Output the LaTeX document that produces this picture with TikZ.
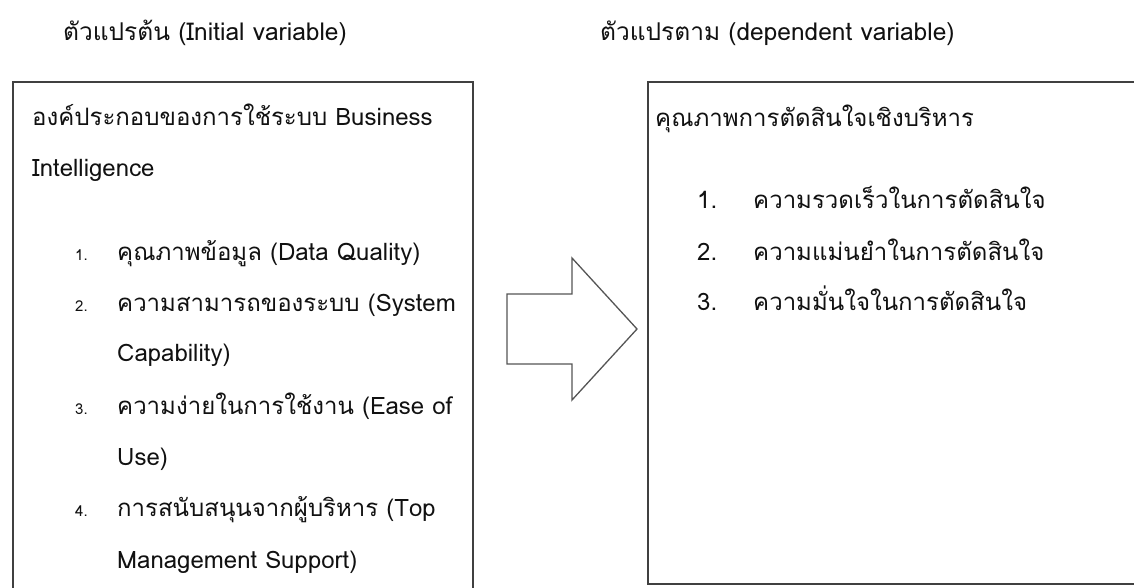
\documentclass[tikz,border=0pt]{standalone}
\usepackage{fontspec}
\setmainfont{Loma}[Script=Thai]
\definecolor{linegray}{HTML}{404040}
\definecolor{arrowgray}{HTML}{555555}
\definecolor{textblack}{HTML}{111111}

\begin{document}
\begin{tikzpicture}
    [
        x=1pt, y=-1pt,
        framebox/.style={rectangle, draw=linegray, line width=2pt, anchor=north west, inner sep=0pt},
        headtext/.style={anchor=base west, font=\fontsize{24.5}{28}\selectfont, text=textblack, inner sep=0pt},
        bodytext/.style={anchor=base west, font=\fontsize{24}{28}\selectfont, text=textblack, inner sep=0pt},
        smallnum/.style={anchor=base west, font=\fontsize{15}{18}\selectfont, text=textblack, inner sep=0pt},
        bignum/.style={anchor=base west, font=\fontsize{24}{28}\selectfont, text=textblack, inner sep=0pt},
        blockarrow/.style={draw=arrowgray, line width=1.3pt, fill=white, line join=miter},
    ]

    \clip (0,0) rectangle (1134,587);
    \fill[white] (0,0) rectangle (1134,587);

    \node[framebox, minimum width=460pt, minimum height=560pt] (leftbox) at (12,81) {};
    \node[framebox, minimum width=520pt, minimum height=502pt] (rightbox) at (647,81) {};

    \node[headtext] (textinitial) at (63,40) {ตัวแปรต้น (Initial variable)};
    \node[headtext] (textdependent) at (600,40) {ตัวแปรตาม (dependent variable)};

    \node[bodytext] (lefttitle1) at (32,125) {องค์ประกอบของการใช้ระบบ Business};
    \node[bodytext] (lefttitle2) at (32,176) {Intelligence};

    \node[smallnum] (num1) at (75,260) {1.};
    \node[bodytext] (item1) at (117,260) {คุณภาพข้อมูล (Data Quality)};
    \node[smallnum] (num2) at (75,311) {2.};
    \node[bodytext] (item2) at (117,311) {ความสามารถของระบบ (System};
    \node[bodytext] (item2b) at (117,361) {Capability)};
    \node[smallnum] (num3) at (75,414) {3.};
    \node[bodytext] (item3) at (117,414) {ความง่ายในการใช้งาน (Ease of};
    \node[bodytext] (item3b) at (117,465) {Use)};
    \node[smallnum] (num4) at (75,516) {4.};
    \node[bodytext] (item4) at (117,516) {การสนับสนุนจากผู้บริหาร (Top};
    \node[bodytext] (item4b) at (117,568) {Management Support)};

    \node[bodytext] (righttitle) at (655,126) {คุณภาพการตัดสินใจเชิงบริหาร};
    \node[bignum] (rnum1) at (697,208) {1.};
    \node[bodytext] (ritem1) at (753,208) {ความรวดเร็วในการตัดสินใจ};
    \node[bignum] (rnum2) at (697,260) {2.};
    \node[bodytext] (ritem2) at (753,260) {ความแม่นยำในการตัดสินใจ};
    \node[bignum] (rnum3) at (697,310) {3.};
    \node[bodytext] (ritem3) at (753,310) {ความมั่นใจในการตัดสินใจ};

    \draw[blockarrow] (507,294) -- (572,294) -- (572,258) -- (637,329) -- (572,400) -- (572,364) -- (507,364) -- cycle;

\end{tikzpicture}
\end{document}
